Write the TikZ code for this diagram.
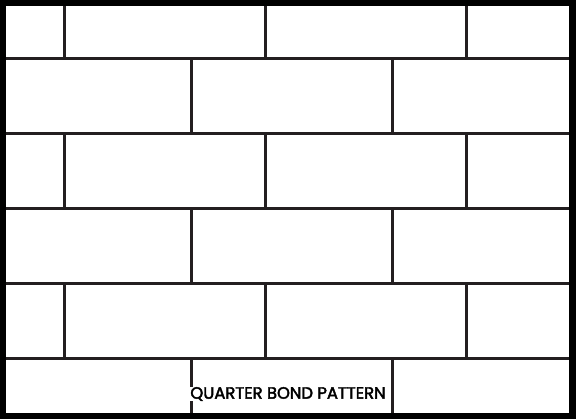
\documentclass[tikz,border=0pt]{standalone}
\usepackage{fontspec}
\newfontfamily\popfont[FakeBold=2.6]{Poppins}
\definecolor{mortar}{HTML}{231F20}
\begin{document}
\begin{tikzpicture}[x=1pt,y=-1pt,
  joint/.style={draw=mortar,line width=3pt},
  caption/.style={fill=white,inner sep=0.5pt,font=\popfont\fontsize{16.4}{18}\selectfont,text=black}]
\useasboundingbox (0,0) rectangle (576,419);
\fill[black] (0,0) rectangle (576,419);
\fill[white] (6,6) rectangle (569,413);
% horizontal joints
\foreach \y in {59,134,209,284,359}
  \draw[joint] (6,\y) -- (569,\y);
% vertical joints, odd rows
\foreach \ya/\yb in {6/59,134/209,284/359}
  \foreach \x in {64,265,466}
    \draw[joint] (\x,\ya) -- (\x,\yb);
% vertical joints, even rows
\foreach \ya/\yb in {59/134,209/284,359/413}
  \foreach \x in {191,392}
    \draw[joint] (\x,\ya) -- (\x,\yb);
\node[caption] (title) at (288,394) {QUARTER BOND PATTERN};
\end{tikzpicture}
\end{document}
